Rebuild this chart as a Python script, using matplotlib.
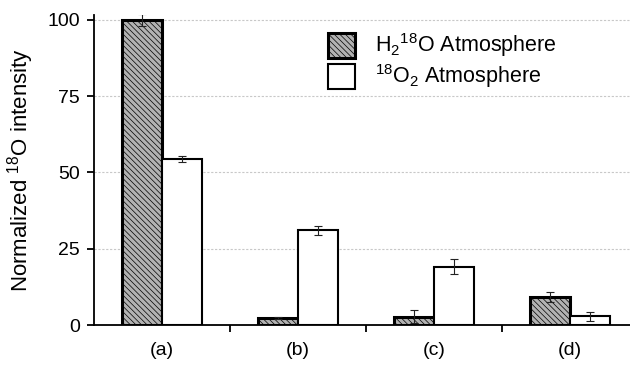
import numpy as np
import matplotlib
matplotlib.use("Agg")
import matplotlib.pyplot as plt

plt.rcParams['font.family'] = ['Liberation Sans', 'DejaVu Sans']
plt.rcParams['mathtext.fontset'] = 'custom'
plt.rcParams['mathtext.rm'] = 'Liberation Sans'
plt.rcParams['mathtext.it'] = 'Liberation Sans'
plt.rcParams['hatch.color'] = '#777777'
plt.rcParams['hatch.linewidth'] = 0.5

# dados
grupos = ['(a)', '(b)', '(c)', '(d)']
h2o = [100, 2.2, 2.7, 9.2]
h2o_err = [2.0, 0.3, 2.2, 1.6]
o2 = [54.5, 31.1, 19.1, 2.9]
o2_err = [1.0, 1.5, 2.5, 1.5]

x = np.arange(len(grupos))
larg = 0.294

fig = plt.figure(figsize=(6.3, 3.67), dpi=100)
ax = fig.add_axes([94/630, 42/367, 1 - 94/630, (325 - 15)/367])

ax.bar(x - larg/2, h2o, larg, color='#b2b2b2', edgecolor='black', linewidth=2.2,
       hatch='\\\\\\\\\\\\', label=r'H$_2$$^{18}$O Atmosphere', zorder=3)
ax.bar(x + larg/2, o2, larg, color='white', edgecolor='black', linewidth=1.5,
       label=r'$^{18}$O$_2$ Atmosphere', zorder=3)
ax.errorbar(x - larg/2, h2o, yerr=h2o_err, fmt='none', ecolor='#222222',
            elinewidth=0.8, capsize=3, capthick=0.8, zorder=4)
ax.errorbar(x + larg/2, o2, yerr=o2_err, fmt='none', ecolor='#222222',
            elinewidth=0.8, capsize=3, capthick=0.8, zorder=4)

ax.set_xlim(-0.5, 3.44)
ax.set_ylim(0, 101.6)
ax.set_yticks([0, 25, 50, 75, 100])
ax.yaxis.grid(True, color='#c8c8c8', linestyle=(0, (2, 1.5)), linewidth=0.8)
ax.set_axisbelow(True)

ax.set_xticks(x)
ax.set_xticklabels(grupos)
ax.set_xticks([0.5, 1.5, 2.5], minor=True)
ax.tick_params(axis='x', which='major', length=0, pad=12, labelsize=14)
ax.tick_params(axis='x', which='minor', length=5, width=1.3, direction='out')
ax.tick_params(axis='y', length=5, width=1.3, direction='out', labelsize=14, pad=5)

for s in ['top', 'right']:
    ax.spines[s].set_visible(False)
ax.spines['left'].set_linewidth(1.3)
ax.spines['bottom'].set_linewidth(1.3)

ax.set_ylabel(r'Normalized $^{18}$O intensity', fontsize=16, labelpad=8)

ax.legend(loc='upper left', bbox_to_anchor=(309/630, 1 - 12/367),
          bbox_transform=fig.transFigure, frameon=False, fontsize=15.5,
          handlelength=1.25, handleheight=1.4, handletextpad=0.9, labelspacing=0.15)

fig.savefig('out.png', dpi=100)
